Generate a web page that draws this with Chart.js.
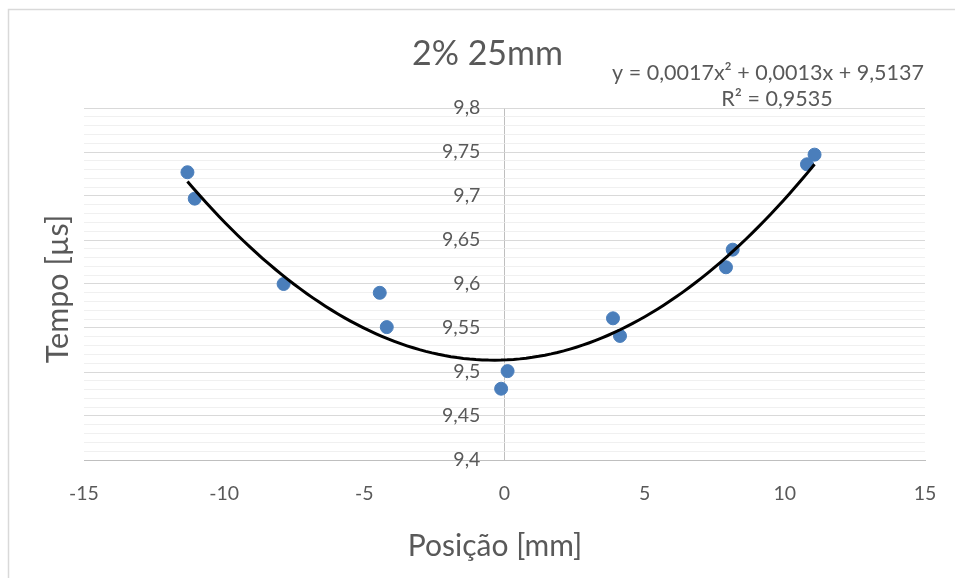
<!DOCTYPE html>
<html>
<head>
<meta charset="utf-8">
<script src="https://cdn.jsdelivr.net/npm/chart.js@4/dist/chart.umd.min.js"></script>
<style>
  html, body { margin: 0; padding: 0; background: #ffffff; }
  #wrap { width: 955px; height: 578px; position: relative; }
</style>
</head>
<body>
<div id="wrap"><canvas id="c" width="955" height="578"></canvas></div>
<script>
// ---- data ----
const chartTitle = "2% 25mm";
const xTitle = "Posição [mm]";
const yTitle = "Tempo [µs]";
const equationLines = ["y = 0,0017x² + 0,0013x + 9,5137", "R² = 0,9535"];
const posicao = [-11.31, -11.05, -7.88, -4.45, -4.2, -0.12, 0.11, 3.87, 4.12, 7.9, 8.14, 10.79, 11.06];
const tempo = [9.727, 9.697, 9.600, 9.590, 9.551, 9.481, 9.501, 9.561, 9.541, 9.619, 9.639, 9.736, 9.747];
// trendline coefficients as printed on the chart: c0 + c1*x + c2*x^2
const trendCoef = [9.5137, 0.0013, 0.0017];
const xTicks = [-15, -10, -5, 0, 5, 10, 15];
const yMin = 9.4, yMax = 9.8, yMinorStep = 0.01, yMajorStep = 0.05;

const FONT = "Lato, 'Open Sans', sans-serif";
const TXT = "#595959";

// trendline points
const xMinData = Math.min(...posicao), xMaxData = Math.max(...posicao);
const trend = [];
for (let i = 0; i <= 100; i++) {
  const x = xMinData + (xMaxData - xMinData) * i / 100;
  trend.push({x: x, y: trendCoef[0] + trendCoef[1] * x + trendCoef[2] * x * x});
}
const points = posicao.map((x, i) => ({x: x, y: tempo[i]}));

const isMajor = v => Math.abs(Math.round(v / yMajorStep) * yMajorStep - v) < 1e-6;
const fmt = v => String(Number(v.toFixed(2))).replace('.', ',');

const textPlugin = {
  id: 'texts',
  beforeDraw(chart) {
    const ctx = chart.ctx;
    ctx.save();
    ctx.strokeStyle = '#d9d9d9';
    ctx.lineWidth = 1.5;
    ctx.strokeRect(8.5, 9.5, 1200, 1200);
    ctx.restore();
  },
  afterDraw(chart) {
    const ctx = chart.ctx;
    ctx.save();
    ctx.fillStyle = TXT;
    ctx.textAlign = 'center';
    ctx.textBaseline = 'alphabetic';
    ctx.font = "34px " + FONT;
    ctx.fillText(chartTitle, 487.5, 65);
    ctx.font = "30px " + FONT;
    ctx.fillText(xTitle, 495, 556);
    ctx.font = "21.5px " + FONT;
    ctx.fillText(equationLines[0], 768, 80);
    ctx.fillText(equationLines[1], 777, 106);
    ctx.translate(68, 289);
    ctx.rotate(-Math.PI / 2);
    ctx.font = "30.5px " + FONT;
    ctx.fillText(yTitle, 0, 0);
    ctx.restore();
  }
};

new Chart(document.getElementById('c'), {
  data: {
    datasets: [
      {
        type: 'line',
        data: trend,
        borderColor: '#000000',
        borderWidth: 3,
        pointRadius: 0,
        tension: 0,
        fill: false,
        order: 0
      },
      {
        type: 'scatter',
        data: points,
        backgroundColor: '#4a7ebb',
        borderColor: '#4a7ebb',
        pointRadius: 6.5,
        pointHoverRadius: 6.5,
        order: 1
      }
    ]
  },
  options: {
    responsive: false,
    animation: false,
    events: [],
    layout: { padding: { left: 84, right: 30, top: 108, bottom: 0 } },
    plugins: { legend: { display: false }, title: { display: false }, tooltip: { enabled: false } },
    scales: {
      x: {
        type: 'linear',
        position: 'bottom',
        min: -15, max: 15,
        afterBuildTicks: s => { s.ticks = xTicks.map(v => ({value: v})); },
        afterFit: s => { s.height = 118; s.paddingLeft = 0; s.paddingRight = 0; },
        grid: {
          display: true, drawTicks: false,
          color: c => (c.tick && c.tick.value === 0) ? '#bfbfbf' : 'rgba(0,0,0,0)',
          lineWidth: 1
        },
        border: { display: true, color: '#bfbfbf', width: 1 },
        ticks: {
          color: TXT, font: { family: FONT, size: 19.5 }, padding: 22,
          maxRotation: 0, autoSkip: false,
          callback: v => String(v)
        }
      },
      y: {
        type: 'linear',
        position: { x: -0.86 },
        min: yMin, max: yMax,
        afterFit: s => { s.paddingTop = 0; s.paddingBottom = 0; },
        grid: {
          drawTicks: false,
          color: c => (c.tick && isMajor(c.tick.value)) ? '#d9d9d9' : '#f0f0f0',
          lineWidth: 1
        },
        border: { display: false },
        ticks: {
          stepSize: yMinorStep, autoSkip: false,
          color: TXT, font: { family: FONT, size: 19.5 }, padding: 0,
          callback: v => isMajor(v) ? fmt(v) : ''
        }
      }
    }
  },
  plugins: [textPlugin]
});
</script>
</body>
</html>
